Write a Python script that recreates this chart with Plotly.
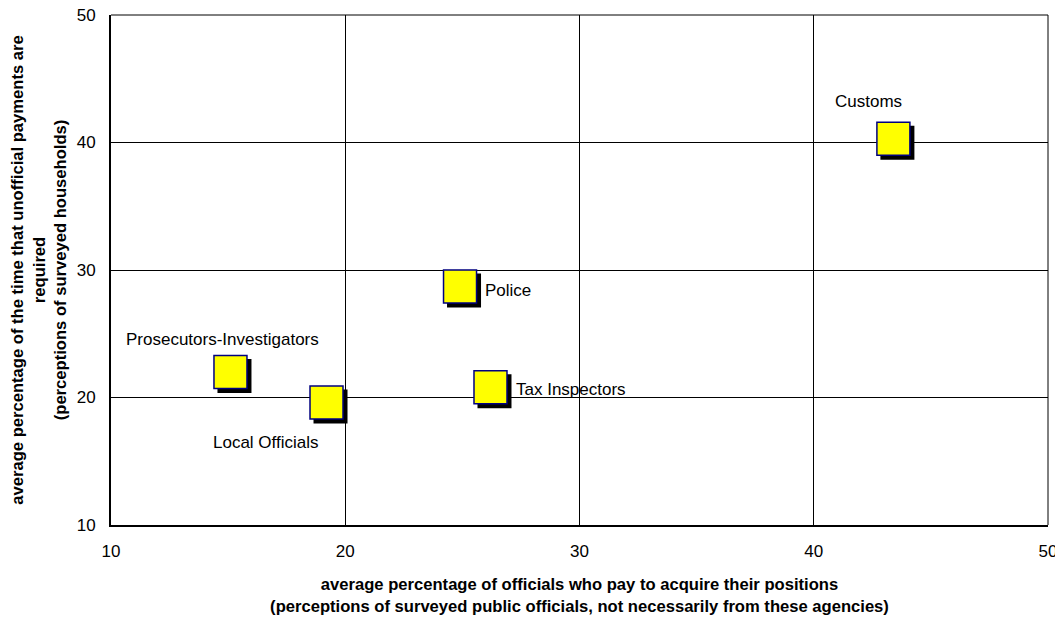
import plotly.graph_objects as go

agencies = ["Customs", "Police", "Tax Inspectors", "Prosecutors-Investigators", "Local Officials"]
pay_for_position = [43.4, 24.9, 26.2, 15.1, 19.2]
unofficial_payments = [40.3, 28.7, 20.8, 22.0, 19.6]

x_ticks = [10, 20, 30, 40, 50]
y_ticks = [10, 20, 30, 40, 50]

# layout geometry (page body has an 8px default margin)
W, H = 1055, 613
ml, mr, mt, mb = 103, 15, 7, 96
xr, yr = [10, 50], [10, 50]
px_x = (W - ml - mr) / (xr[1] - xr[0])
px_y = (H - mt - mb) / (yr[1] - yr[0])
shadow_px = 4

FONT = "Liberation Sans, Arial"

fig = go.Figure()
fig.add_trace(go.Scatter(
    x=[v + shadow_px / px_x for v in pay_for_position],
    y=[v - shadow_px / px_y for v in unofficial_payments],
    mode="markers",
    marker=dict(symbol="square", size=34, color="black", line=dict(width=0)),
    hoverinfo="skip", showlegend=False,
))
fig.add_trace(go.Scatter(
    x=pay_for_position, y=unofficial_payments, mode="markers",
    text=agencies,
    marker=dict(symbol="square", size=33, color="#FFFF00", line=dict(width=1.5, color="#000080")),
    showlegend=False,
))

label_offsets = {
    "Customs": (-25, 37, "center"),
    "Police": (23, -4, "left"),
    "Tax Inspectors": (24, -2, "left"),
    "Prosecutors-Investigators": (-8, 33, "center"),
    "Local Officials": (-61, -40, "center"),
}
for name, xv, yv in zip(agencies, pay_for_position, unofficial_payments):
    dx, dy, anc = label_offsets[name]
    fig.add_annotation(x=xv, y=yv, text=name, showarrow=False, xanchor=anc, yanchor="middle",
                       xshift=dx, yshift=dy, font=dict(size=17, color="black", family=FONT))

# top/right border lines
fig.add_shape(type="line", xref="paper", yref="paper", x0=0, x1=1, y0=1, y1=1, line=dict(color="black", width=1))
fig.add_shape(type="line", xref="paper", yref="paper", x0=1, x1=1, y0=0, y1=1, line=dict(color="black", width=1))

axis_font = dict(size=17, color="black", family=FONT)
title_font = dict(size=16.6, color="black", family=FONT)

fig.update_xaxes(
    range=xr, tickvals=x_ticks, ticktext=[str(t) for t in x_ticks],
    showgrid=True, gridcolor="black", gridwidth=1, zeroline=False,
    showline=True, linecolor="black", linewidth=2,
    ticks="", ticklabelstandoff=10, tickfont=axis_font, automargin=False,
    ticklabeloverflow="allow",
    title=dict(text="<b>average percentage of officials who pay to acquire their positions<br>(perceptions of surveyed public officials, not necessarily from these agencies)</b>",
               font=title_font, standoff=18),
)
fig.update_yaxes(
    range=yr, tickvals=y_ticks, ticktext=[str(t) for t in y_ticks],
    showgrid=True, gridcolor="black", gridwidth=1, zeroline=False,
    showline=True, linecolor="black", linewidth=2,
    ticks="", ticklabelstandoff=10, tickfont=axis_font, automargin=False,
    ticklabeloverflow="allow",
    title=dict(text="<b>average percentage of the time that unofficial payments are<br>required<br>(perceptions of surveyed households)</b>",
               font=title_font, standoff=24),
)
fig.update_layout(
    width=W, height=H,
    margin=dict(l=ml, r=mr, t=mt, b=mb, autoexpand=False),
    plot_bgcolor="white", paper_bgcolor="white",
    font=dict(family=FONT, color="black"),
)
fig.write_html("out.html")
